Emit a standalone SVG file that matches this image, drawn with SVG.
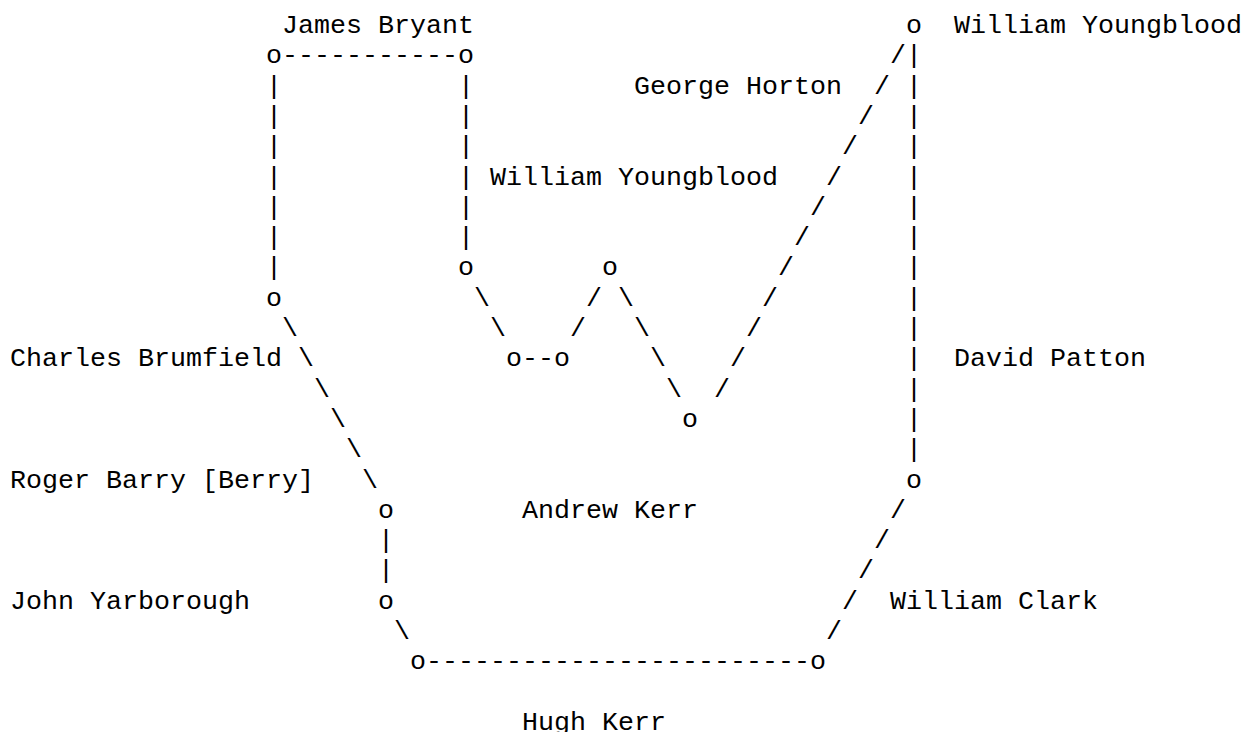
<svg xmlns="http://www.w3.org/2000/svg" width="1245" height="732" viewBox="0 0 1245 732">
<style>
text{font-family:"Liberation Mono","DejaVu Sans Mono",monospace;font-size:26.67px;fill:#000;white-space:pre}
</style>
<rect width="1245" height="732" fill="#fff"/>
<g id="connectors">
<text x="282" y="63.3">-----------</text>
<text x="266" y="93.6">|</text><text x="266" y="123.9">|</text><text x="266" y="154.2">|</text><text x="266" y="184.5">|</text><text x="266" y="214.8">|</text><text x="266" y="245.1">|</text><text x="266" y="275.4">|</text>
<text x="458" y="93.6">|</text><text x="458" y="123.9">|</text><text x="458" y="154.2">|</text><text x="458" y="184.5">|</text><text x="458" y="214.8">|</text><text x="458" y="245.1">|</text>
<text x="890" y="63.3">/</text><text x="874" y="93.6">/</text><text x="858" y="123.9">/</text><text x="842" y="154.2">/</text><text x="826" y="184.5">/</text><text x="810" y="214.8">/</text><text x="794" y="245.1">/</text><text x="778" y="275.4">/</text><text x="762" y="305.7">/</text><text x="746" y="336">/</text><text x="730" y="366.3">/</text><text x="714" y="396.6">/</text>
<text x="906" y="63.3">|</text><text x="906" y="93.6">|</text><text x="906" y="123.9">|</text><text x="906" y="154.2">|</text><text x="906" y="184.5">|</text><text x="906" y="214.8">|</text><text x="906" y="245.1">|</text><text x="906" y="275.4">|</text><text x="906" y="305.7">|</text><text x="906" y="336">|</text><text x="906" y="366.3">|</text><text x="906" y="396.6">|</text><text x="906" y="426.9">|</text><text x="906" y="457.2">|</text>
<text x="474" y="305.7">\</text><text x="490" y="336">\</text>
<text x="586" y="305.7">/</text><text x="570" y="336">/</text>
<text x="618" y="305.7">\</text><text x="634" y="336">\</text><text x="650" y="366.3">\</text><text x="666" y="396.6">\</text>
<text x="522" y="366.3">--</text>
<text x="282" y="336">\</text><text x="298" y="366.3">\</text><text x="314" y="396.6">\</text><text x="330" y="426.9">\</text><text x="346" y="457.2">\</text><text x="362" y="487.5">\</text>
<text x="378" y="548.1">|</text><text x="378" y="578.4">|</text>
<text x="394" y="639">\</text>
<text x="426" y="669.3">------------------------</text>
<text x="890" y="517.8">/</text><text x="874" y="548.1">/</text><text x="858" y="578.4">/</text><text x="842" y="608.7">/</text><text x="826" y="639">/</text>
</g>
<g id="node-william-youngblood-top"><text x="906" y="33">o</text></g>
<g id="node-bryant-left"><text x="266" y="63.3">o</text></g>
<g id="node-bryant-right"><text x="458" y="63.3">o</text></g>
<g id="node-youngblood-mid-left"><text x="458" y="275.4">o</text></g>
<g id="node-youngblood-mid-peak"><text x="602" y="275.4">o</text></g>
<g id="node-brumfield"><text x="266" y="305.7">o</text></g>
<g id="node-w-bottom-left"><text x="506" y="366.3">o</text></g>
<g id="node-w-bottom-right"><text x="554" y="366.3">o</text></g>
<g id="node-horton-bottom"><text x="682" y="426.9">o</text></g>
<g id="node-patton-bottom"><text x="906" y="487.5">o</text></g>
<g id="node-barry"><text x="378" y="517.8">o</text></g>
<g id="node-yarborough"><text x="378" y="608.7">o</text></g>
<g id="node-hugh-left"><text x="410" y="669.3">o</text></g>
<g id="node-hugh-right"><text x="810" y="669.3">o</text></g>
<g id="labels">
<text x="282" y="33">James Bryant</text>
<text x="954" y="33">William Youngblood</text>
<text x="634" y="93.6">George Horton</text>
<text x="490" y="184.5">William Youngblood</text>
<text x="10" y="366.3">Charles Brumfield</text>
<text x="954" y="366.3">David Patton</text>
<text x="10" y="487.5">Roger Barry [Berry]</text>
<text x="522" y="517.8">Andrew Kerr</text>
<text x="10" y="608.7">John Yarborough</text>
<text x="890" y="608.7">William Clark</text>
<text x="522" y="729.9">Hugh Kerr</text>
</g>
</svg>
